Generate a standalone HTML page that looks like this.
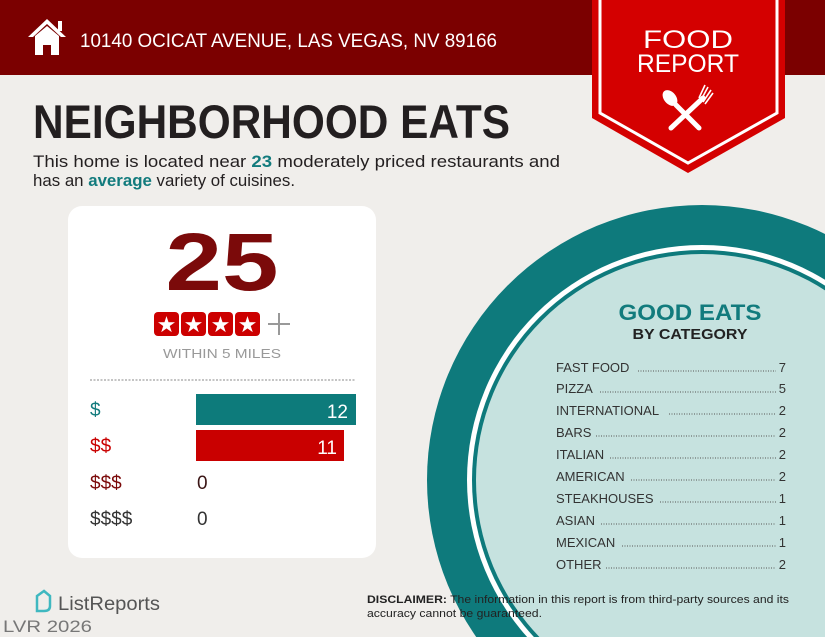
<!DOCTYPE html>
<html><head><meta charset="utf-8"><style>
html,body{margin:0;padding:0;background:#f0eeeb;width:825px;height:637px;overflow:hidden;}
svg{display:block;font-family:"Liberation Sans",sans-serif;}
</style></head><body>
<svg width="825" height="637" viewBox="0 0 825 637" xmlns="http://www.w3.org/2000/svg">
<rect width="825" height="637" fill="#f0eeeb"/>
<rect width="825" height="75" fill="#7b0000"/>
<polygon points="47,19 28,37 33,37 47,24 61,37 66,37" fill="#fff"/>
<rect x="58" y="21" width="4" height="10" fill="#fff"/>
<polygon points="35,36 47,26 59,36 59,55 51,55 51,45 43,45 43,55 35,55" fill="#fff"/>
<text x="80" y="47" font-size="19" fill="#fff" textLength="417" lengthAdjust="spacingAndGlyphs">10140 OCICAT AVENUE, LAS VEGAS, NV 89166</text>

<polygon points="592,0 785,0 785,118 688,173 592,118" fill="#d40000"/>
<polyline points="600,0 600,113 688,163 777,113 777,0" fill="none" stroke="#fff" stroke-width="3"/>
<text x="688" y="48" font-size="25" fill="#fff" text-anchor="middle" textLength="90" lengthAdjust="spacingAndGlyphs">FOOD</text>
<text x="688" y="72" font-size="25" fill="#fff" text-anchor="middle" textLength="102" lengthAdjust="spacingAndGlyphs">REPORT</text>
<g stroke="#fff" stroke-width="5" stroke-linecap="round" fill="#fff">
<line x1="676" y1="105" x2="699" y2="128"/>
<line x1="703" y1="98" x2="671" y2="128"/>
</g>
<ellipse cx="670" cy="98" rx="6" ry="9" transform="rotate(-40 670 98)" fill="#fff"/>
<g stroke="#fff" stroke-width="1.6">
<line x1="701" y1="100" x2="708" y2="87"/><line x1="703" y1="102" x2="711" y2="90"/><line x1="705" y1="104" x2="713" y2="93"/><line x1="699" y1="98" x2="705" y2="85"/>
</g>

<text x="33" y="138" font-size="47" font-weight="bold" fill="#231f20" textLength="477" lengthAdjust="spacingAndGlyphs">NEIGHBORHOOD EATS</text>
<text x="33" y="167" font-size="17" fill="#231f20" textLength="527" lengthAdjust="spacingAndGlyphs">This home is located near <tspan fill="#127b7d" font-weight="bold">23</tspan> moderately priced restaurants and</text>
<text x="33" y="186" font-size="17" fill="#231f20" textLength="262" lengthAdjust="spacingAndGlyphs">has an <tspan fill="#127b7d" font-weight="bold">average</tspan> variety of cuisines.</text>

<rect x="68" y="206" width="308" height="352" rx="14" fill="#fff"/>
<text x="222" y="290" font-size="82" font-weight="bold" fill="#7b0a0a" text-anchor="middle" textLength="113" lengthAdjust="spacingAndGlyphs">25</text>
<g fill="#cc0000">
<rect x="154" y="312" width="25" height="24" rx="4"/><rect x="181" y="312" width="25" height="24" rx="4"/><rect x="208" y="312" width="25" height="24" rx="4"/><rect x="235" y="312" width="25" height="24" rx="4"/>
</g>
<g fill="#fff" font-size="22" text-anchor="middle">
<text x="166.5" y="332">★</text><text x="193.5" y="332">★</text><text x="220.5" y="332">★</text><text x="247.5" y="332">★</text>
</g>
<g stroke="#999" stroke-width="2"><line x1="268" y1="324" x2="290" y2="324"/><line x1="279" y1="313" x2="279" y2="335"/></g>
<text x="222" y="358" font-size="13" fill="#999" text-anchor="middle" textLength="118" lengthAdjust="spacingAndGlyphs">WITHIN 5 MILES</text>
<line x1="90" y1="380" x2="356" y2="380" stroke="#888" stroke-width="1" stroke-dasharray="2,1.5"/>

<rect x="196" y="394" width="160" height="31" fill="#0d7b7b"/>
<text x="348" y="418" font-size="19" fill="#fff" text-anchor="end">12</text>
<rect x="196" y="430" width="148" height="31" fill="#c90000"/>
<text x="337" y="454" font-size="19" fill="#fff" text-anchor="end">11</text>
<text x="90" y="416" font-size="19" fill="#127b7d">$</text>
<text x="90" y="452" font-size="19" fill="#c90000">$$</text>
<text x="90" y="489" font-size="19" fill="#7b0a0a">$$$</text>
<text x="197" y="489" font-size="19" fill="#3a1515">0</text>
<text x="90" y="525" font-size="19" fill="#333">$$$$</text>
<text x="197" y="525" font-size="19" fill="#333">0</text>

<circle cx="702" cy="480" r="275" fill="#0e7a7c"/>
<circle cx="702" cy="480" r="235" fill="#fff"/>
<circle cx="702" cy="480" r="230" fill="#0e7a7c"/>
<circle cx="702" cy="480" r="226" fill="#c6e2df"/>

<text x="690" y="320" font-size="22" font-weight="bold" fill="#127b7d" text-anchor="middle" textLength="143" lengthAdjust="spacingAndGlyphs">GOOD EATS</text>
<text x="690" y="339" font-size="15" font-weight="bold" fill="#222" text-anchor="middle" textLength="115" lengthAdjust="spacingAndGlyphs">BY CATEGORY</text>
<g font-size="13" fill="#333">
<text x="556" y="372">FAST FOOD</text><text x="786" y="372" text-anchor="end">7</text>
<text x="556" y="393">PIZZA</text><text x="786" y="393" text-anchor="end">5</text>
<text x="556" y="415">INTERNATIONAL</text><text x="786" y="415" text-anchor="end">2</text>
<text x="556" y="437">BARS</text><text x="786" y="437" text-anchor="end">2</text>
<text x="556" y="459">ITALIAN</text><text x="786" y="459" text-anchor="end">2</text>
<text x="556" y="481">AMERICAN</text><text x="786" y="481" text-anchor="end">2</text>
<text x="556" y="503">STEAKHOUSES</text><text x="786" y="503" text-anchor="end">1</text>
<text x="556" y="525">ASIAN</text><text x="786" y="525" text-anchor="end">1</text>
<text x="556" y="547">MEXICAN</text><text x="786" y="547" text-anchor="end">1</text>
<text x="556" y="569">OTHER</text><text x="786" y="569" text-anchor="end">2</text>
</g>
<g stroke="#555" stroke-width="1" stroke-dasharray="1,1.5">
<line x1="638" y1="371" x2="776" y2="371"/>
<line x1="600" y1="392" x2="776" y2="392"/>
<line x1="669" y1="414" x2="776" y2="414"/>
<line x1="596" y1="436" x2="776" y2="436"/>
<line x1="610" y1="458" x2="776" y2="458"/>
<line x1="631" y1="480" x2="776" y2="480"/>
<line x1="660" y1="502" x2="776" y2="502"/>
<line x1="601" y1="524" x2="776" y2="524"/>
<line x1="622" y1="546" x2="776" y2="546"/>
<line x1="606" y1="568" x2="776" y2="568"/>
</g>

<path d="M37,596 L44,591 L50,596 L50,606 Q50,611 44,611 L37,611 Z" fill="none" stroke="#3fb8c0" stroke-width="2.5"/>
<text x="58" y="610" font-size="19" fill="#555" textLength="102" lengthAdjust="spacingAndGlyphs">ListReports</text>
<text x="3" y="632" font-size="17" fill="#777" textLength="89" lengthAdjust="spacingAndGlyphs">LVR 2026</text>
<text x="367" y="603" font-size="11" fill="#222" textLength="422" lengthAdjust="spacingAndGlyphs"><tspan font-weight="bold">DISCLAIMER:</tspan> The information in this report is from third-party sources and its</text>
<text x="367" y="617" font-size="11" fill="#222" textLength="175" lengthAdjust="spacingAndGlyphs">accuracy cannot be guaranteed.</text>
</svg>
</body></html>
